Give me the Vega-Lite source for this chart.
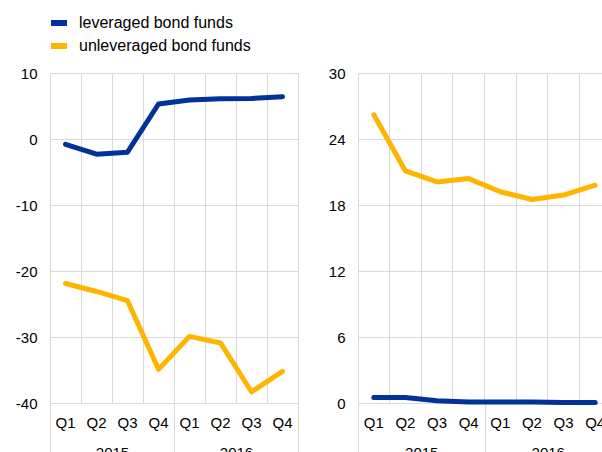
{
  "$schema": "https://vega.github.io/schema/vega-lite/v6.json",
  "padding": {"left": 13, "top": 12, "right": 0, "bottom": 0},
  "bounds": "flush",
  "spacing": 60,
  "config": {
    "font": "Liberation Sans",
    "view": {"stroke": null},
    "axis": {"labelFont": "Liberation Sans", "labelFontSize": 15, "labelColor": "#000000", "gridColor": "#d9d9d9", "gridWidth": 1, "tickColor": "#d9d9d9", "title": null},
    "legend": {"labelFont": "Liberation Sans", "labelFontSize": 16, "labelColor": "#000000", "labelLimit": 0}
  },
  "datasets": {
    "left": [
      {"period": "2015 Q1", "series": "leveraged bond funds", "value": -0.8},
      {"period": "2015 Q2", "series": "leveraged bond funds", "value": -2.3},
      {"period": "2015 Q3", "series": "leveraged bond funds", "value": -2.0},
      {"period": "2015 Q4", "series": "leveraged bond funds", "value": 5.3},
      {"period": "2016 Q1", "series": "leveraged bond funds", "value": 5.9},
      {"period": "2016 Q2", "series": "leveraged bond funds", "value": 6.1},
      {"period": "2016 Q3", "series": "leveraged bond funds", "value": 6.15},
      {"period": "2016 Q4", "series": "leveraged bond funds", "value": 6.4},
      {"period": "2015 Q1", "series": "unleveraged bond funds", "value": -21.9},
      {"period": "2015 Q2", "series": "unleveraged bond funds", "value": -23.1},
      {"period": "2015 Q3", "series": "unleveraged bond funds", "value": -24.5},
      {"period": "2015 Q4", "series": "unleveraged bond funds", "value": -34.9},
      {"period": "2016 Q1", "series": "unleveraged bond funds", "value": -29.9},
      {"period": "2016 Q2", "series": "unleveraged bond funds", "value": -30.9},
      {"period": "2016 Q3", "series": "unleveraged bond funds", "value": -38.3},
      {"period": "2016 Q4", "series": "unleveraged bond funds", "value": -35.2}
    ],
    "right": [
      {"period": "2015 Q1", "series": "leveraged bond funds", "value": 0.5},
      {"period": "2015 Q2", "series": "leveraged bond funds", "value": 0.5},
      {"period": "2015 Q3", "series": "leveraged bond funds", "value": 0.2},
      {"period": "2015 Q4", "series": "leveraged bond funds", "value": 0.1},
      {"period": "2016 Q1", "series": "leveraged bond funds", "value": 0.1},
      {"period": "2016 Q2", "series": "leveraged bond funds", "value": 0.1},
      {"period": "2016 Q3", "series": "leveraged bond funds", "value": 0.05},
      {"period": "2016 Q4", "series": "leveraged bond funds", "value": 0.05},
      {"period": "2015 Q1", "series": "unleveraged bond funds", "value": 26.2},
      {"period": "2015 Q2", "series": "unleveraged bond funds", "value": 21.1},
      {"period": "2015 Q3", "series": "unleveraged bond funds", "value": 20.1},
      {"period": "2015 Q4", "series": "unleveraged bond funds", "value": 20.4},
      {"period": "2016 Q1", "series": "unleveraged bond funds", "value": 19.2},
      {"period": "2016 Q2", "series": "unleveraged bond funds", "value": 18.5},
      {"period": "2016 Q3", "series": "unleveraged bond funds", "value": 18.9},
      {"period": "2016 Q4", "series": "unleveraged bond funds", "value": 19.8}
    ],
    "years": [{"year": "2015"}, {"year": "2016"}]
  },
  "hconcat": [
    {
      "width": 248,
      "height": 330,
      "layer": [
        {
          "data": {"name": "left"},
          "mark": {"type": "line", "strokeWidth": 5, "strokeCap": "round", "strokeJoin": "round"},
          "encoding": {
            "x": {"field": "period", "type": "ordinal", "scale": {"type": "band", "paddingInner": 0, "paddingOuter": 0},
                  "axis": {"labelExpr": "substring(datum.label, 5)", "labelAngle": 0, "ticks": false, "tickSize": 0, "domain": false, "grid": true, "bandPosition": 0, "labelPadding": 12}},
            "y": {"field": "value", "type": "quantitative", "scale": {"domain": [-40, 10], "nice": false, "zero": false},
                  "axis": {"values": [-40, -30, -20, -10, 0, 10], "labelExpr": "toString(datum.value)", "domain": false, "ticks": false, "labelPadding": 13, "minExtent": 37, "maxExtent": 37}},
            "color": {"field": "series", "type": "nominal",
                      "scale": {"domain": ["leveraged bond funds", "unleveraged bond funds"], "range": ["#003299", "#ffb400"]},
                      "legend": {"title": null, "orient": "none", "legendX": -2, "legendY": -61, "direction": "vertical", "columns": 1, "symbolType": "stroke", "symbolSize": 256, "symbolStrokeWidth": 6, "labelOffset": 9, "rowPadding": -4}}
          }
        },
        {
          "data": {"name": "years"},
          "mark": {"type": "rule", "opacity": 0},
          "encoding": {
            "x": {"field": "year", "type": "ordinal", "scale": {"type": "band", "paddingInner": 0, "paddingOuter": 0},
                  "axis": {"orient": "bottom", "labelAngle": 0, "tickBand": "extent", "ticks": true, "tickSize": 60, "domain": false, "grid": true, "labelPadding": -18}}
          }
        }
      ],
      "resolve": {"scale": {"x": "independent"}, "axis": {"x": "independent"}}
    },
    {
      "width": 253,
      "height": 330,
      "layer": [
        {
          "data": {"name": "right"},
          "mark": {"type": "line", "strokeWidth": 5, "strokeCap": "round", "strokeJoin": "round"},
          "encoding": {
            "x": {"field": "period", "type": "ordinal", "scale": {"type": "band", "paddingInner": 0, "paddingOuter": 0},
                  "axis": {"labelExpr": "substring(datum.label, 5)", "labelAngle": 0, "ticks": false, "tickSize": 0, "domain": false, "grid": true, "bandPosition": 0, "labelPadding": 12}},
            "y": {"field": "value", "type": "quantitative", "scale": {"domain": [0, 30], "nice": false, "zero": false},
                  "axis": {"values": [0, 6, 12, 18, 24, 30], "domain": false, "ticks": false, "labelPadding": 13, "minExtent": 37, "maxExtent": 37}},
            "color": {"field": "series", "type": "nominal",
                      "scale": {"domain": ["leveraged bond funds", "unleveraged bond funds"], "range": ["#003299", "#ffb400"]}}
          }
        },
        {
          "data": {"name": "years"},
          "mark": {"type": "rule", "opacity": 0},
          "encoding": {
            "x": {"field": "year", "type": "ordinal", "scale": {"type": "band", "paddingInner": 0, "paddingOuter": 0},
                  "axis": {"orient": "bottom", "labelAngle": 0, "tickBand": "extent", "ticks": true, "tickSize": 60, "domain": false, "grid": false, "labelPadding": -18}}
          }
        }
      ],
      "resolve": {"scale": {"x": "independent"}, "axis": {"x": "independent"}}
    }
  ]
}
